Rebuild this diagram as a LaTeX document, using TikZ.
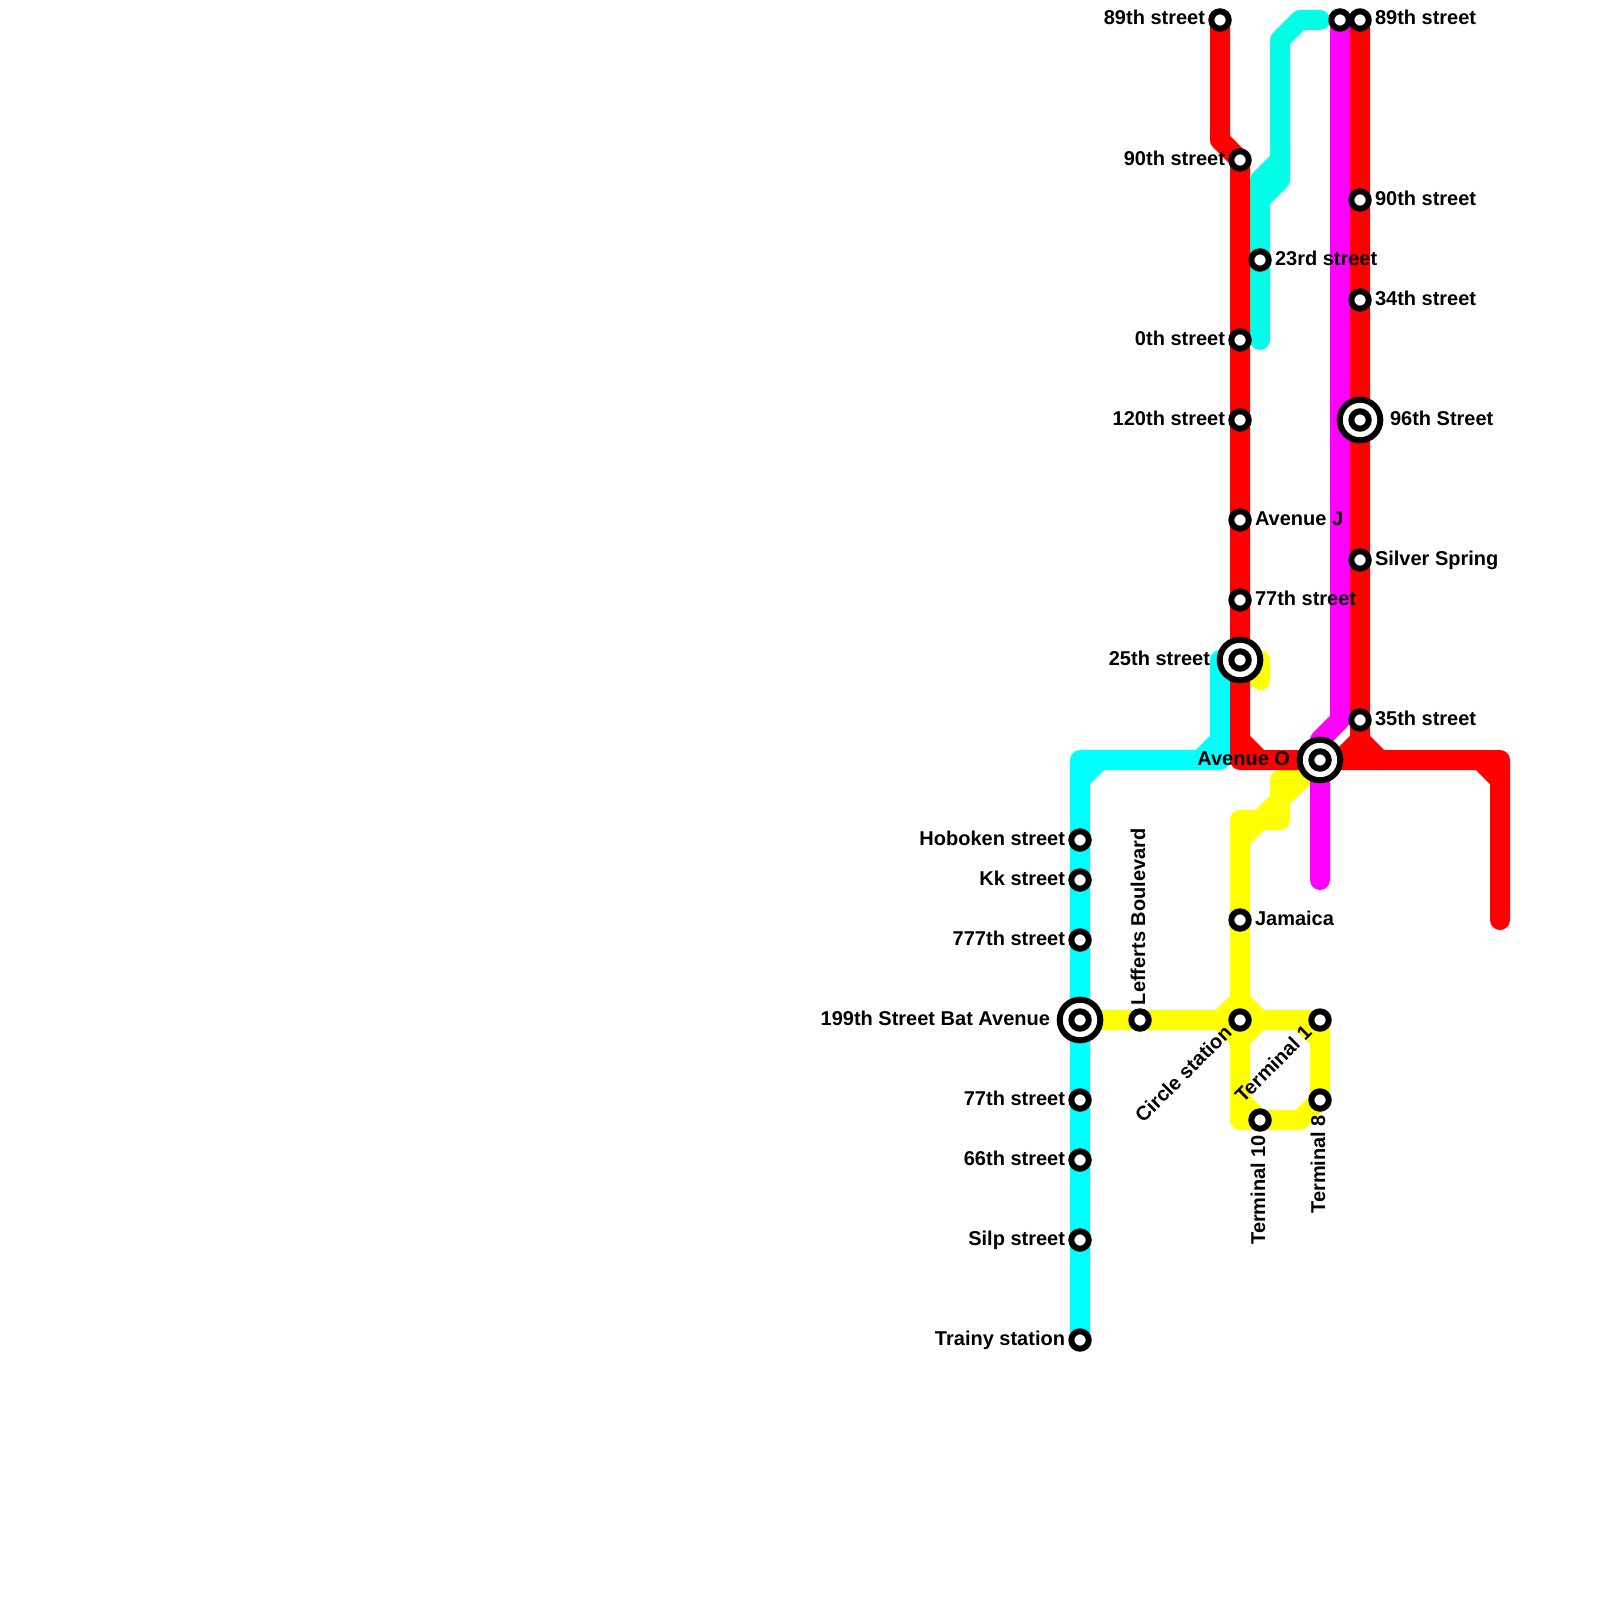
\documentclass[tikz,border=0pt]{standalone}
\usepackage{fontspec}
\setmainfont{Liberation Sans}
\usetikzlibrary{backgrounds}
\definecolor{lineaqua}{RGB}{0,255,230}
\definecolor{linecyan}{RGB}{0,255,255}
\definecolor{lineyellow}{RGB}{255,255,0}
\definecolor{linemagenta}{RGB}{255,0,255}
\definecolor{linered}{RGB}{255,0,0}
\tikzset{
  metro/.style={line width=20pt,line cap=round,line join=round},
  stn/.style={circle,draw=black,fill=white,line width=6pt,minimum size=17.4pt,inner sep=0pt,outer sep=0pt},
  hub/.style={circle,draw=black,fill=white,line width=6pt,minimum size=40.6pt,inner sep=0pt,outer sep=0pt},
  txt/.style={font=\bfseries\fontsize{20}{24}\selectfont,text=black,inner sep=0pt,outer sep=0pt},
  lblR/.style={txt,anchor=base west,xshift=15pt,yshift=-5pt},
  lblL/.style={txt,anchor=base east,xshift=-15pt,yshift=-5pt},
  lblHR/.style={txt,anchor=base west,xshift=30pt,yshift=-5pt},
  lblHL/.style={txt,anchor=base east,xshift=-30pt,yshift=-5pt},
  lblUp/.style={txt,xshift=5pt,yshift=15pt,rotate=90,anchor=base west},
  lblDn/.style={txt,xshift=5pt,yshift=-15pt,rotate=90,anchor=base east},
  lblDiag/.style={txt,xshift=-7pt,yshift=-14pt,rotate=45,anchor=base east},
}
\newcommand{\stn}[5]{\node[stn] (#1) at (#2,#3) {}; \node[#4] (#1l) at (#1.center) {#5};}
\newcommand{\hub}[5]{\node[hub] (#1h) at (#2,#3) {}; \node[stn] (#1) at (#2,#3) {}; \node[#4] (#1l) at (#1.center) {#5};}
\begin{document}
\begin{tikzpicture}[x=1pt,y=-1pt]
\useasboundingbox (0,0) rectangle (1600,1600);
% stations
\stn{aA}{1220}{20}{lblL}{89th street}
\stn{aB}{1240}{160}{lblL}{90th street}
\stn{aC}{1240}{340}{lblL}{0th street}
\stn{aD}{1240}{420}{lblL}{120th street}
\stn{aE}{1240}{520}{lblR}{Avenue J}
\stn{aF}{1240}{600}{lblR}{77th street}
\hub{aG}{1240}{660}{lblHL}{25th street}
\stn{bT}{1260}{260}{lblR}{23rd street}
\stn{mA}{1340}{20}{txt}{}
\stn{rA}{1360}{20}{lblR}{89th street}
\stn{rB}{1360}{200}{lblR}{90th street}
\stn{rC}{1360}{300}{lblR}{34th street}
\hub{rD}{1360}{420}{lblHR}{96th Street}
\stn{rE}{1360}{560}{lblR}{Silver Spring}
\stn{rF}{1360}{720}{lblR}{35th street}
\hub{oO}{1320}{760}{lblHL}{Avenue O}
\stn{cA}{1080}{840}{lblL}{Hoboken street}
\stn{cB}{1080}{880}{lblL}{Kk street}
\stn{cC}{1080}{940}{lblL}{777th street}
\hub{cD}{1080}{1020}{lblHL}{199th Street Bat Avenue}
\stn{cE}{1080}{1100}{lblL}{77th street}
\stn{cF}{1080}{1160}{lblL}{66th street}
\stn{cG}{1080}{1240}{lblL}{Silp street}
\stn{cH}{1080}{1340}{lblL}{Trainy station}
\stn{yL}{1140}{1020}{lblUp}{Lefferts Boulevard}
\stn{yJ}{1240}{920}{lblR}{Jamaica}
\stn{yC}{1240}{1020}{lblDiag}{Circle station}
\stn{yO}{1320}{1020}{lblDiag}{Terminal 1}
\stn{yE}{1320}{1100}{lblDn}{Terminal 8}
\stn{yT}{1260}{1120}{lblDn}{Terminal 10}
\coordinate (aquaEnd) at (1320,20);
\coordinate (aquaFoot) at (1260,340);
\coordinate (magFoot) at (1320,880);
\coordinate (redFoot) at (1500,920);
\coordinate (stub) at (1260,680);
\coordinate (cyanTop) at (1220,660);
\begin{scope}[on background layer]
\fill[white] (0,0) rectangle (1600,1600);
% yellow
\draw[metro,lineyellow] (aG.center) -- (1260,660) -- (stub) -- (aG.center);
\draw[metro,lineyellow] (cD.center) -- (yO.center) -- (yE.center) -- (1300,1120) -- (1240,1120) -- (1240,820) -- (1280,820) -- (1280,780) -- (1300,780) -- (oO.center) -- (1240,840)
  (1280,800) -- (1260,820)
  (1220,1020) -- (1240,1000) -- (1260,1020) -- (1240,1040) -- cycle
  (1300,1020) -- (1320,1040)
  (1240,1100) -- (1260,1120);
% cyan
\draw[metro,linecyan] (cH.center) -- (1080,760) -- (1220,760) -- (cyanTop)
  (1080,780) -- (1100,760)
  (1220,740) -- (1200,760);
% aqua
\draw[metro,lineaqua] (aquaEnd) -- (1300,20) -- (1280,40) -- (1280,180) -- (1260,180) -- (aquaFoot)
  (1280,160) -- (1260,180)
  (1280,180) -- (1260,200);
% magenta
\draw[metro,linemagenta] (mA.center) -- (1340,720) -- (1320,740) -- (magFoot);
% red
\draw[metro,linered] (aA.center) -- (1220,140) -- (aB.center) -- (1240,760) -- (1500,760) -- (redFoot)
  (1240,740) -- (1260,760)
  (1480,760) -- (1500,780);
\draw[metro,linered] (rA.center) -- (1360,760)
  (1340,760) -- (1360,740) -- (1380,760);
\end{scope}
\end{tikzpicture}
\end{document}
